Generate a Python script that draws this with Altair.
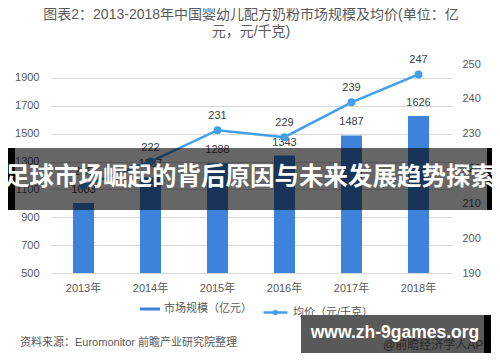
import altair as alt
import pandas as pd

years = ["2013年", "2014年", "2015年", "2016年", "2017年", "2018年"]
market_size = [1003, 1187, 1288, 1343, 1487, 1626]
avg_price = [215, 222, 231, 229, 239, 247]
bar_name = "市场规模（亿元）"
line_name = "均价（元/千克）"
title_lines = ["图表2：2013-2018年中国婴幼儿配方奶粉市场规模及均价(单位：亿", "元，元/千克)"]
source_text = "资料来源：Euromonitor 前瞻产业研究院整理"
banner_text = "足球市场崛起的背后原因与未来发展趋势探索"
site_text = "www.zh-9games.org"
under_text = "@前瞻经济学人APP"
left_ticks = [500, 700, 900, 1100, 1300, 1500, 1700, 1900]
right_ticks = [190, 200, 210, 220, 230, 240, 250]

FONT = "Liberation Sans, Noto Sans CJK SC"
BAR_C = "#3D83DB"
LINE_C = "#42A0EA"

df = pd.DataFrame({"year": years, "size": market_size, "price": avg_price,
                   "bs": bar_name, "ls": line_name})

x = alt.X("year:N", sort=years, title=None,
          scale=alt.Scale(paddingInner=0, paddingOuter=0),
          axis=alt.Axis(labelAngle=0, domain=False, ticks=False, labelPadding=9,
                        labelFontSize=11, labelColor="#595959", labelFont=FONT))

yl = alt.Y("size:Q", title=None, scale=alt.Scale(domain=[500, 2000], zero=False, nice=False),
           axis=alt.Axis(values=left_ticks, domain=False,
                         ticks=False, labelPadding=11, gridColor="#D9D9D9", format="d",
                         labelOverlap=False, labelFlush=False,
                         labelFontSize=11, labelColor="#595959", labelFont=FONT))

bars = alt.Chart(df).mark_bar(size=21).encode(
    x=x, y=yl, y2=alt.datum(500),
    color=alt.Color("bs:N", scale=alt.Scale(domain=[bar_name], range=[BAR_C]),
                    legend=alt.Legend(title=None, orient="none", legendX=90, legendY=235,
                                      symbolType="M-1,-0.15H1V0.15H-1Z", symbolSize=400,
                                      symbolStrokeWidth=0, labelFontSize=11, labelFont=FONT,
                                      labelColor="#595959", padding=0, labelOffset=4)))
bar_txt = alt.Chart(df).mark_text(dy=-13, fontSize=11, color="#404040", font=FONT).encode(
    x=x, y=yl, text="size:Q")
left = alt.layer(bars, bar_txt)

yr = alt.Y("price:Q", title=None, scale=alt.Scale(domain=[190, 250], zero=False, nice=False),
           axis=alt.Axis(orient="right", values=right_ticks, grid=False,
                         domain=False, ticks=False, labelPadding=10, format="d",
                         labelOverlap=False, labelFlush=False,
                         labelFontSize=11, labelColor="#595959", labelFont=FONT))
line = alt.Chart(df).mark_line(strokeWidth=2.5, point=alt.OverlayMarkDef(filled=True, size=35, color=LINE_C)).encode(
    x=x, y=yr,
    stroke=alt.Stroke("ls:N", scale=alt.Scale(domain=[line_name], range=[LINE_C]),
                      legend=alt.Legend(title=None, orient="none", legendX=212, legendY=235,
                                        symbolType="M-1,0H1M0.12,0A0.12,0.12 0 1,1 -0.12,0A0.12,0.12 0 1,1 0.12,0",
                                        symbolSize=576, symbolStrokeWidth=2.5, symbolFillColor=LINE_C,
                                        labelFontSize=11, labelFont=FONT, labelColor="#595959",
                                        padding=0, labelOffset=4)))
line_txt = alt.Chart(df).mark_text(dy=-14, fontSize=11, color="#404040", font=FONT).encode(
    x=x, y=yr, text="price:Q")
right = alt.layer(line, line_txt)

one = pd.DataFrame({"t": [source_text], "b": [banner_text], "s": [site_text], "u": [under_text]})
src = alt.Chart(one).mark_text(align="left", baseline="middle", fontSize=11, color="#595959", font=FONT).encode(
    x=alt.value(-30), y=alt.value(279), text="t:N")
under = alt.Chart(one).mark_text(align="left", baseline="middle", fontSize=12, color="#777777", font=FONT).encode(
    x=alt.value(333), y=alt.value(281), text="u:N")
band_gray = alt.Chart(one).mark_rect(color="black", opacity=0.6).encode(
    x=alt.value(-35), x2=alt.value(437), y=alt.value(84), y2=alt.value(146))
band_l = alt.Chart(one).mark_rect(color="black").encode(
    x=alt.value(-50), x2=alt.value(-35), y=alt.value(84), y2=alt.value(146))
band_r = alt.Chart(one).mark_rect(color="black").encode(
    x=alt.value(437), x2=alt.value(460), y=alt.value(84), y2=alt.value(146))
band_txt = alt.Chart(one).mark_text(align="center", baseline="middle", fontSize=24.5, fontWeight="bold",
                                    color="white", font="Noto Sans CJK SC").encode(
    x=alt.value(200), y=alt.value(114), text="b:N")
wm_box = alt.Chart(one).mark_rect(color="black", opacity=0.65).encode(
    x=alt.value(251), x2=alt.value(434), y=alt.value(251), y2=alt.value(289))
wm_strip = alt.Chart(one).mark_rect(color="black").encode(
    x=alt.value(434), x2=alt.value(441), y=alt.value(251), y2=alt.value(289))
wm_txt = alt.Chart(one).mark_text(align="center", baseline="middle", fontSize=17.5, fontWeight="bold",
                                  color="white", font="Liberation Sans").encode(
    x=alt.value(345), y=alt.value(269), text="s:N")

chart = alt.layer(
    alt.layer(left, right).resolve_scale(y="independent"),
    src, under, band_gray, band_l, band_r, band_txt, wm_box, wm_strip, wm_txt
).properties(
    width=402, height=209,
    autosize=alt.AutoSizeParams(type="none"),
    padding={"left": 42, "top": 56, "right": 40, "bottom": 81},
    title=alt.TitleParams(text=title_lines, anchor="middle", offset=15, fontSize=14,
                          fontWeight="normal", color="#595959", font=FONT, lineHeight=17),
).configure_view(stroke=None).configure_axis(labelOverlap=False)

chart.save("out.html", embed_options={"renderer": "svg", "actions": False})
